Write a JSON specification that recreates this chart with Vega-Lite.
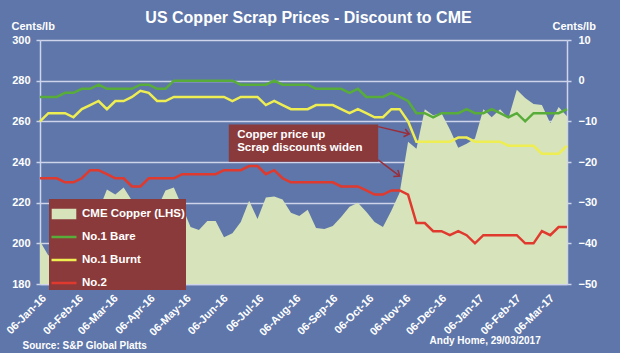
{
  "$schema": "https://vega.github.io/schema/vega-lite/v6.json",
  "width": 527,
  "height": 244,
  "autosize": {"type": "none"},
  "padding": {"left": 40, "top": 40, "right": 53, "bottom": 69},
  "background": "#5E76A9",
  "title": {
    "text": "US Copper Scrap Prices - Discount to CME",
    "color": "white", "font": "Liberation Sans", "fontSize": 16, "fontWeight": "bold",
    "anchor": "middle", "frame": "group", "dx": 5, "offset": -19, "baseline": "alphabetic"
  },
  "config": {
    "view": {"stroke": null},
    "axis": {
      "labelColor": "white", "labelFont": "Liberation Sans", "labelFontWeight": "bold",
      "titleColor": "white", "titleFont": "Liberation Sans", "titleFontWeight": "bold",
      "domainColor": "#CDD4EC", "tickColor": "#CDD4EC", "gridColor": "#CDD4EC",
      "domainWidth": 1.5, "gridWidth": 1.5, "tickWidth": 1.5
    }
  },
  "data": {"values": [
    {"d": "2016-01-06", "cme": 201, "bare": -4, "burnt": -10, "no2": -24},
    {"d": "2016-01-13", "cme": 194, "bare": -4, "burnt": -8, "no2": -24},
    {"d": "2016-01-20", "cme": 197, "bare": -4, "burnt": -8, "no2": -24},
    {"d": "2016-01-27", "cme": 200, "bare": -3, "burnt": -8, "no2": -25},
    {"d": "2016-02-03", "cme": 206, "bare": -3, "burnt": -9, "no2": -25},
    {"d": "2016-02-10", "cme": 204, "bare": -2, "burnt": -7, "no2": -24},
    {"d": "2016-02-17", "cme": 208, "bare": -2, "burnt": -6, "no2": -22},
    {"d": "2016-02-24", "cme": 216, "bare": -1, "burnt": -5, "no2": -22},
    {"d": "2016-03-02", "cme": 226.5, "bare": -2, "burnt": -7, "no2": -23},
    {"d": "2016-03-09", "cme": 224, "bare": -2, "burnt": -5, "no2": -24},
    {"d": "2016-03-16", "cme": 227.5, "bare": -2, "burnt": -5, "no2": -24},
    {"d": "2016-03-23", "cme": 221, "bare": -2, "burnt": -4, "no2": -26},
    {"d": "2016-03-30", "cme": 214, "bare": -1, "burnt": -2.5, "no2": -26},
    {"d": "2016-04-06", "cme": 210, "bare": -1, "burnt": -3, "no2": -24},
    {"d": "2016-04-13", "cme": 217, "bare": -2, "burnt": -5, "no2": -24},
    {"d": "2016-04-20", "cme": 226, "bare": -2, "burnt": -5, "no2": -24},
    {"d": "2016-04-27", "cme": 227.5, "bare": 0, "burnt": -4, "no2": -24},
    {"d": "2016-05-04", "cme": 218, "bare": 0, "burnt": -4, "no2": -23},
    {"d": "2016-05-11", "cme": 208, "bare": 0, "burnt": -4, "no2": -23},
    {"d": "2016-05-18", "cme": 206.5, "bare": 0, "burnt": -4, "no2": -23},
    {"d": "2016-05-25", "cme": 211, "bare": 0, "burnt": -4, "no2": -23},
    {"d": "2016-06-01", "cme": 211, "bare": 0, "burnt": -4, "no2": -23},
    {"d": "2016-06-08", "cme": 203, "bare": 0, "burnt": -4, "no2": -22},
    {"d": "2016-06-15", "cme": 205, "bare": 0, "burnt": -5, "no2": -22},
    {"d": "2016-06-22", "cme": 210.5, "bare": -1, "burnt": -4, "no2": -22},
    {"d": "2016-06-29", "cme": 221, "bare": -1, "burnt": -4, "no2": -21},
    {"d": "2016-07-06", "cme": 212, "bare": -1, "burnt": -4, "no2": -21},
    {"d": "2016-07-13", "cme": 222.5, "bare": -1, "burnt": -6, "no2": -23},
    {"d": "2016-07-20", "cme": 223, "bare": 0, "burnt": -5, "no2": -22},
    {"d": "2016-07-27", "cme": 221.5, "bare": -1, "burnt": -6, "no2": -24},
    {"d": "2016-08-03", "cme": 215, "bare": -1, "burnt": -7, "no2": -25},
    {"d": "2016-08-10", "cme": 213.5, "bare": -1, "burnt": -7, "no2": -25},
    {"d": "2016-08-17", "cme": 216.5, "bare": -1, "burnt": -7, "no2": -25},
    {"d": "2016-08-24", "cme": 207.5, "bare": -2, "burnt": -6, "no2": -25},
    {"d": "2016-08-31", "cme": 207, "bare": -2, "burnt": -6, "no2": -25},
    {"d": "2016-09-07", "cme": 208.5, "bare": -2, "burnt": -6, "no2": -25},
    {"d": "2016-09-14", "cme": 213, "bare": -2, "burnt": -7, "no2": -26},
    {"d": "2016-09-21", "cme": 218, "bare": -3, "burnt": -8, "no2": -26},
    {"d": "2016-09-28", "cme": 220, "bare": -2, "burnt": -7, "no2": -26},
    {"d": "2016-10-05", "cme": 215.5, "bare": -4, "burnt": -8, "no2": -27},
    {"d": "2016-10-12", "cme": 210.5, "bare": -4, "burnt": -9, "no2": -28},
    {"d": "2016-10-19", "cme": 208, "bare": -4, "burnt": -9, "no2": -28},
    {"d": "2016-10-26", "cme": 216, "bare": -3, "burnt": -7, "no2": -27},
    {"d": "2016-11-02", "cme": 225, "bare": -4, "burnt": -7, "no2": -27},
    {"d": "2016-11-09", "cme": 250, "bare": -5, "burnt": -10, "no2": -28},
    {"d": "2016-11-16", "cme": 246.5, "bare": -8, "burnt": -15, "no2": -35},
    {"d": "2016-11-23", "cme": 266, "bare": -8, "burnt": -15, "no2": -35},
    {"d": "2016-11-30", "cme": 263, "bare": -9, "burnt": -15, "no2": -37},
    {"d": "2016-12-07", "cme": 264, "bare": -8, "burnt": -15, "no2": -37},
    {"d": "2016-12-14", "cme": 256, "bare": -8, "burnt": -15, "no2": -38},
    {"d": "2016-12-21", "cme": 247, "bare": -8, "burnt": -14, "no2": -37},
    {"d": "2016-12-28", "cme": 249, "bare": -7, "burnt": -14, "no2": -38},
    {"d": "2017-01-04", "cme": 251.5, "bare": -8, "burnt": -15, "no2": -40},
    {"d": "2017-01-11", "cme": 266, "bare": -8, "burnt": -15, "no2": -38},
    {"d": "2017-01-18", "cme": 262, "bare": -7, "burnt": -15, "no2": -38},
    {"d": "2017-01-25", "cme": 266, "bare": -8, "burnt": -15, "no2": -38},
    {"d": "2017-02-01", "cme": 261.5, "bare": -9, "burnt": -16, "no2": -38},
    {"d": "2017-02-08", "cme": 275.5, "bare": -8, "burnt": -16, "no2": -38},
    {"d": "2017-02-15", "cme": 271.5, "bare": -10, "burnt": -16, "no2": -40},
    {"d": "2017-02-22", "cme": 268.5, "bare": -8, "burnt": -16, "no2": -40},
    {"d": "2017-03-01", "cme": 268, "bare": -8, "burnt": -18, "no2": -37},
    {"d": "2017-03-08", "cme": 259, "bare": -8, "burnt": -18, "no2": -38},
    {"d": "2017-03-15", "cme": 267, "bare": -8, "burnt": -18, "no2": -36},
    {"d": "2017-03-22", "cme": 262.5, "bare": -7, "burnt": -16, "no2": -36}
  ]},
  "layer": [
    {
      "mark": {"type": "area", "opacity": 1, "color": "#D7E3BA"},
      "encoding": {
        "x": {
          "field": "d", "type": "temporal",
          "scale": {"type": "utc", "domain": [{"year": 2016, "month": 1, "date": 6, "utc": true}, {"year": 2017, "month": 3, "date": 22, "utc": true}]},
          "axis": {
            "values": [
              {"year": 2016, "month": 1, "date": 6, "utc": true},
              {"year": 2016, "month": 2, "date": 6, "utc": true},
              {"year": 2016, "month": 3, "date": 6, "utc": true},
              {"year": 2016, "month": 4, "date": 6, "utc": true},
              {"year": 2016, "month": 5, "date": 6, "utc": true},
              {"year": 2016, "month": 6, "date": 6, "utc": true},
              {"year": 2016, "month": 7, "date": 6, "utc": true},
              {"year": 2016, "month": 8, "date": 6, "utc": true},
              {"year": 2016, "month": 9, "date": 6, "utc": true},
              {"year": 2016, "month": 10, "date": 6, "utc": true},
              {"year": 2016, "month": 11, "date": 6, "utc": true},
              {"year": 2016, "month": 12, "date": 6, "utc": true},
              {"year": 2017, "month": 1, "date": 6, "utc": true},
              {"year": 2017, "month": 2, "date": 6, "utc": true},
              {"year": 2017, "month": 3, "date": 6, "utc": true}
            ],
            "labelExpr": "utcFormat(datum.value, '%d-%b-%y')",
            "labelAngle": -45, "labelFontSize": 11, "labelOverlap": false, "labelFlush": false,
            "labelPadding": 8, "ticks": false, "grid": false,
            "title": "Source:  S&P Global Platts", "titleFontSize": 10,
            "titleX": -18, "titleY": 64, "titleAlign": "left", "titleBaseline": "alphabetic"
          }
        },
        "y": {
          "field": "cme", "type": "quantitative",
          "scale": {"domain": [180, 300], "nice": false, "zero": false},
          "axis": {
            "orient": "left", "values": [180, 200, 220, 240, 260, 280, 300],
            "grid": true, "tickSize": 4, "labelPadding": 6, "labelFontSize": 11,
            "title": "Cents/lb", "titleAngle": 0, "titleX": -29, "titleY": -11,
            "titleAlign": "left", "titleBaseline": "alphabetic", "titleFontSize": 11
          }
        },
        "y2": {"datum": 180}
      }
    },
    {
      "transform": [{"fold": ["bare", "burnt", "no2"], "as": ["series", "val"]}],
      "mark": {"type": "line", "strokeWidth": 2.5},
      "encoding": {
        "x": {"field": "d", "type": "temporal", "axis": null,
          "scale": {"type": "utc", "domain": [{"year": 2016, "month": 1, "date": 6, "utc": true}, {"year": 2017, "month": 3, "date": 22, "utc": true}]}},
        "y": {
          "field": "val", "type": "quantitative",
          "scale": {"domain": [-50, 10], "nice": false, "zero": false},
          "axis": {
            "orient": "right", "values": [-50, -40, -30, -20, -10, 0, 10],
            "grid": false, "tickSize": 4, "labelPadding": 7, "labelFontSize": 11,
            "title": "Cents/lb", "titleAngle": 0, "titleX": -15, "titleY": -11,
            "titleAlign": "left", "titleBaseline": "alphabetic", "titleFontSize": 11
          }
        },
        "color": {
          "field": "series", "type": "nominal",
          "scale": {"domain": ["cme", "bare", "burnt", "no2"], "range": ["#D7E3BA", "#58AC3A", "#EEEE52", "#E0392E"]},
          "legend": {
            "orient": "none", "legendX": 9, "legendY": 159, "title": null,
            "fillColor": "#8A3A3B", "padding": 1, "gridAlign": "all",
            "labelColor": "white", "labelFont": "Liberation Sans", "labelFontWeight": "bold", "labelFontSize": 11.5,
            "symbolSize": 289, "symbolStrokeWidth": 2.5, "rowPadding": -6, "labelOffset": 4,
            "labelExpr": "{'cme': 'CME Copper (LHS)', 'bare': 'No.1 Bare', 'burnt': 'No.1 Burnt', 'no2': 'No.2'}[datum.value]",
            "encode": {
              "symbols": {
                "update": {
                  "size": {"signal": "datum.value === 'cme' ? 289 : 625"},
                  "shape": {"signal": "datum.value === 'cme' ? 'M-1.3,-0.47H1.3V0.47H-1.3Z' : 'stroke'"},
                  "fill": {"signal": "datum.value === 'cme' ? '#D7E3BA' : 'transparent'"},
                  "stroke": {"signal": "datum.value === 'cme' ? 'transparent' : datum.value === 'bare' ? '#58AC3A' : datum.value === 'burnt' ? '#EEEE52' : '#E0392E'"},
                  "strokeWidth": {"value": 2.5},
                  "opacity": {"value": 1}
                }
              }
            }
          }
        }
      }
    },
    {
      "data": {"values": [{}]},
      "mark": {"type": "rect", "fill": "#8A3A3B"},
      "encoding": {
        "x": {"datum": {"year": 2016, "month": 6, "date": 12, "utc": true}, "type": "temporal", "axis": null,
          "scale": {"type": "utc", "domain": [{"year": 2016, "month": 1, "date": 6, "utc": true}, {"year": 2017, "month": 3, "date": 22, "utc": true}]}},
        "x2": {"datum": {"year": 2016, "month": 10, "date": 15, "utc": true}},
        "y": {"datum": 258.5, "type": "quantitative", "scale": {"domain": [180, 300]}, "axis": null},
        "y2": {"datum": 240.1}
      }
    },
    {
      "data": {"values": [{}]},
      "mark": {"type": "text", "text": "Copper price up", "align": "left", "baseline": "middle", "color": "white", "font": "Liberation Sans", "fontWeight": "bold", "fontSize": 11.5},
      "encoding": {
        "x": {"datum": {"year": 2016, "month": 6, "date": 19, "utc": true}, "type": "temporal", "axis": null,
          "scale": {"type": "utc", "domain": [{"year": 2016, "month": 1, "date": 6, "utc": true}, {"year": 2017, "month": 3, "date": 22, "utc": true}]}},
        "y": {"datum": 253.3, "type": "quantitative", "scale": {"domain": [180, 300]}, "axis": null}
      }
    },
    {
      "data": {"values": [{}]},
      "mark": {"type": "text", "text": "Scrap discounts widen", "align": "left", "baseline": "middle", "color": "white", "font": "Liberation Sans", "fontWeight": "bold", "fontSize": 11.5},
      "encoding": {
        "x": {"datum": {"year": 2016, "month": 6, "date": 19, "utc": true}, "type": "temporal", "axis": null,
          "scale": {"type": "utc", "domain": [{"year": 2016, "month": 1, "date": 6, "utc": true}, {"year": 2017, "month": 3, "date": 22, "utc": true}]}},
        "y": {"datum": 246.9, "type": "quantitative", "scale": {"domain": [180, 300]}, "axis": null}
      }
    },
    {
      "data": {"values": [{}]},
      "mark": {"type": "rule", "color": "#9B2D3A", "strokeWidth": 1.5},
      "encoding": {
        "x": {"datum": {"year": 2016, "month": 10, "date": 15, "utc": true}, "type": "temporal", "axis": null,
          "scale": {"type": "utc", "domain": [{"year": 2016, "month": 1, "date": 6, "utc": true}, {"year": 2017, "month": 3, "date": 22, "utc": true}]}},
        "x2": {"datum": {"year": 2016, "month": 11, "date": 10, "utc": true}},
        "y": {"datum": 257.4, "type": "quantitative", "scale": {"domain": [180, 300]}, "axis": null},
        "y2": {"datum": 253.8}
      }
    },
    {
      "data": {"values": [{}]},
      "mark": {"type": "rule", "color": "#9B2D3A", "strokeWidth": 1.5},
      "encoding": {
        "x": {"datum": {"year": 2016, "month": 10, "date": 15, "utc": true}, "type": "temporal", "axis": null,
          "scale": {"type": "utc", "domain": [{"year": 2016, "month": 1, "date": 6, "utc": true}, {"year": 2017, "month": 3, "date": 22, "utc": true}]}},
        "x2": {"datum": {"year": 2016, "month": 11, "date": 2, "utc": true}},
        "y": {"datum": 241, "type": "quantitative", "scale": {"domain": [180, 300]}, "axis": null},
        "y2": {"datum": 233.1}
      }
    },
    {
      "data": {"values": [{}]},
      "mark": {"type": "point", "shape": "M-1,-0.8L0,0L-1,0.8", "filled": false, "stroke": "#9B2D3A", "strokeWidth": 1.5, "size": 100, "angle": 13, "opacity": 1},
      "encoding": {
        "x": {"datum": {"year": 2016, "month": 11, "date": 10, "utc": true}, "type": "temporal", "axis": null,
          "scale": {"type": "utc", "domain": [{"year": 2016, "month": 1, "date": 6, "utc": true}, {"year": 2017, "month": 3, "date": 22, "utc": true}]}},
        "y": {"datum": 253.8, "type": "quantitative", "scale": {"domain": [180, 300]}, "axis": null}
      }
    },
    {
      "data": {"values": [{}]},
      "mark": {"type": "point", "shape": "M-1,-0.8L0,0L-1,0.8", "filled": false, "stroke": "#9B2D3A", "strokeWidth": 1.5, "size": 100, "angle": 35, "opacity": 1},
      "encoding": {
        "x": {"datum": {"year": 2016, "month": 11, "date": 2, "utc": true}, "type": "temporal", "axis": null,
          "scale": {"type": "utc", "domain": [{"year": 2016, "month": 1, "date": 6, "utc": true}, {"year": 2017, "month": 3, "date": 22, "utc": true}]}},
        "y": {"datum": 233.1, "type": "quantitative", "scale": {"domain": [180, 300]}, "axis": null}
      }
    },
    {
      "data": {"values": [{}]},
      "mark": {"type": "text", "text": "Andy Home, 29/03/2017", "align": "left", "baseline": "alphabetic", "color": "white", "font": "Liberation Sans", "fontWeight": "bold", "fontSize": 10},
      "encoding": {
        "x": {"datum": {"year": 2016, "month": 11, "date": 27, "utc": true}, "type": "temporal", "axis": null,
          "scale": {"type": "utc", "domain": [{"year": 2016, "month": 1, "date": 6, "utc": true}, {"year": 2017, "month": 3, "date": 22, "utc": true}]}},
        "y": {"datum": 150.5, "type": "quantitative", "scale": {"domain": [180, 300]}, "axis": null}
      }
    }
  ],
  "resolve": {"scale": {"y": "independent", "x": "independent", "color": "independent"}}
}
